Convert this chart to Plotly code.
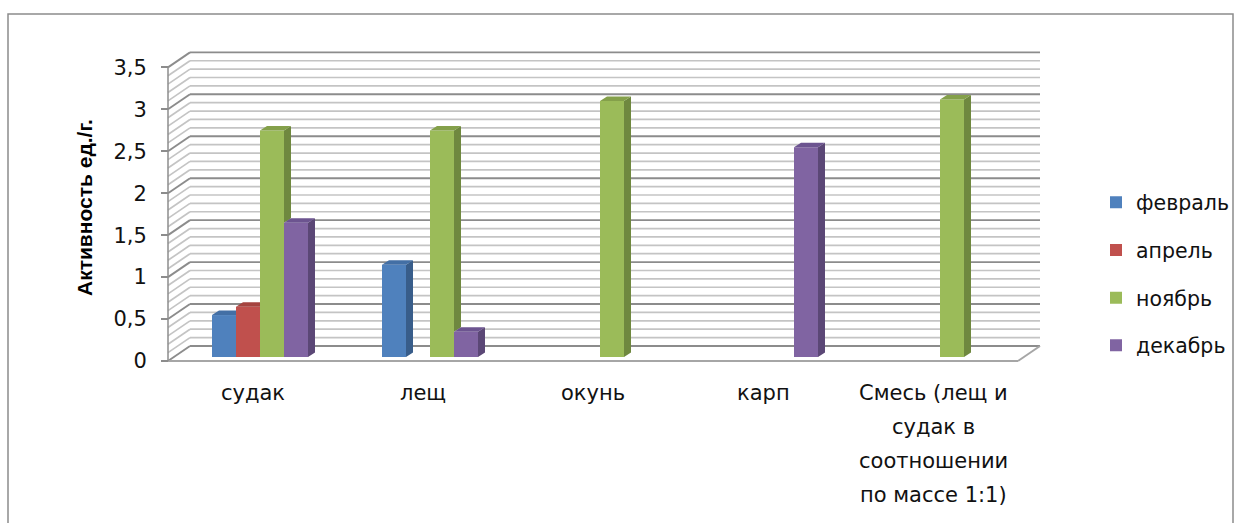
import numpy as np
import plotly.graph_objects as go

# ---- data ----
categories = ["судак", "лещ", "окунь", "карп",
              "Смесь (лещ и\nсудак в\nсоотношении\nпо массе 1:1)"]
months = ["февраль", "апрель", "ноябрь", "декабрь"]
feb = [0.5, 1.1, None, None, None]
apr = [0.6, None, None, None, None]
nov = [2.7, 2.7, 3.05, None, 3.07]
dec = [1.6, 0.3, None, 2.5, None]
series = [feb, apr, nov, dec]
y_ticks = [0, 0.5, 1, 1.5, 2, 2.5, 3, 3.5]
y_title = "Активность ед./г."

# ---- styles ----
front_colors = ["#4F81BD", "#C0504D", "#9BBB59", "#8064A2"]
side_colors = ["#385D8A", "#8E3A38", "#6F883F", "#5B4776"]
top_colors = ["#436FA5", "#A5433F", "#84A04A", "#6C5490"]
major_grid = "#8C8C8C"
minor_grid = "#C4C4C4"
text_font = "DejaVu Sans"

# ---- geometry (pixels of the 1244x523 page) ----
W, H = 1244, 523
PL, PR, PT, PB = 162, 1046, 40, 366      # plot area
AXIS_X, AXIS_Y0 = 168, 361               # front axis / value 0
CAT_PX, UNIT_PX = 170.0, 83.9            # px per category, px per unit

xr0 = -0.5 - (AXIS_X - PL) / CAT_PX
yr0 = -(PB - AXIS_Y0) / UNIT_PX
x_range = [xr0, xr0 + (PR - PL) / CAT_PX]
y_range = [yr0, yr0 + (PB - PT) / UNIT_PX]

ncat = len(categories)
nser = len(series)
x_left, x_right = -0.5, ncat - 0.5
y_top = y_ticks[-1]

wall_dx, wall_dy = 22 / CAT_PX, 15 / UNIT_PX    # back-wall depth offset
bar_dx, bar_dy = 7 / CAT_PX, 4 / UNIT_PX        # bar plane offset
dep_dx, dep_dy = 7 / CAT_PX, 4.5 / UNIT_PX      # bar depth
bar_w = 24 / CAT_PX


def px_x(px):
    return (px - PL) / (PR - PL)


def px_y(py):
    return (PB - py) / (PB - PT)


fig = go.Figure()

# ---- front faces (bars) ----
for k, (name, vals) in enumerate(zip(months, series)):
    fig.add_trace(go.Bar(
        name=name, legendgroup=name,
        x=[i + bar_dx for i in range(ncat)], y=vals,
        base=bar_dy, width=bar_w, offset=-nser / 2 * bar_w + k * bar_w,
        marker=dict(color=front_colors[k], line=dict(width=0)),
        hoverinfo="skip",
    ))

# ---- side and top faces, clipped where the neighbouring bar hides them ----
for k, vals in enumerate(series):
    sx, sy, tx, ty = [], [], [], []
    for i, v in enumerate(vals):
        if v is None:
            continue
        xl = i + bar_dx - nser / 2 * bar_w + k * bar_w
        xr = xl + bar_w
        top = bar_dy + v
        nxt = series[k + 1][i] if k + 1 < nser else None
        low = bar_dy if nxt is None else bar_dy + nxt
        if low < top:
            sx += [xr, xr + dep_dx, xr + dep_dx, xr, xr, None]
            sy += [low, low + dep_dy, top + dep_dy, top, low, None]
        if nxt is not None and nxt >= v:
            tx += [xl, xl + dep_dx, xr, xr, xl, None]
            ty += [top, top + dep_dy, top + dep_dy, top, top, None]
        else:
            tx += [xl, xl + dep_dx, xr + dep_dx, xr, xl, None]
            ty += [top, top + dep_dy, top + dep_dy, top, top, None]
    for xs, ys, col in ((sx, sy, side_colors[k]), (tx, ty, top_colors[k])):
        if xs:
            fig.add_trace(go.Scatter(
                x=xs, y=ys, mode="lines", fill="toself", fillcolor=col,
                line=dict(width=0, color=col), showlegend=False,
                hoverinfo="skip"))

# ---- walls, floor and front axis ----
shapes = []
steps = int(round(y_top / 0.1))
for s in range(steps + 1):
    v = s * 0.1
    major = s % 5 == 0
    col = major_grid if major else minor_grid
    lw = 1.9 if major else 1.7
    shapes.append(dict(type="line", xref="x", yref="y", layer="below",
                       x0=x_left + wall_dx, y0=v + wall_dy,
                       x1=x_right + wall_dx, y1=v + wall_dy,
                       line=dict(color=col, width=lw)))
    shapes.append(dict(type="line", xref="x", yref="y", layer="below",
                       x0=x_left, y0=v, x1=x_left + wall_dx, y1=v + wall_dy,
                       line=dict(color=col, width=lw)))
# floor edges
shapes.append(dict(type="line", xref="x", yref="y", layer="below",
                   x0=x_left, y0=0, x1=x_right, y1=0,
                   line=dict(color="#A6A6A6", width=2)))
shapes.append(dict(type="line", xref="x", yref="y", layer="below",
                   x0=x_right, y0=0, x1=x_right + wall_dx, y1=wall_dy,
                   line=dict(color="#A6A6A6", width=2)))
# front value axis
shapes.append(dict(type="line", xref="x", yref="y", layer="below",
                   x0=x_left, y0=0, x1=x_left, y1=y_top,
                   line=dict(color="#8C8C8C", width=1.5)))
# chart border
shapes.append(dict(type="rect", xref="paper", yref="paper", layer="below",
                   x0=px_x(8), y0=px_y(540), x1=px_x(1233), y1=px_y(14),
                   line=dict(color="#8C8C8C", width=1.5)))

# ---- category labels (one annotation per text line) ----
annotations = []
line_gap = 34
for i, cat in enumerate(categories):
    for j, line in enumerate(cat.split("\n")):
        annotations.append(dict(
            x=i, xref="x", y=px_y(AXIS_Y0), yref="paper",
            yanchor="middle", xanchor="center",
            yshift=-(32 + line_gap * j),
            text=line, showarrow=False,
            font=dict(family=text_font, size=21, color="#111111")))

annotations.append(dict(
    x=px_x(84), xref="paper", y=px_y(208), yref="paper",
    text="<b>" + y_title + "</b>", textangle=-90, showarrow=False,
    xanchor="center", yanchor="middle",
    font=dict(family="Liberation Sans", size=21, color="#000000")))

fig.update_layout(
    width=W, height=H,
    margin=dict(l=PL, r=W - PR, t=PT, b=H - PB, pad=0, autoexpand=False),
    paper_bgcolor="white", plot_bgcolor="rgba(0,0,0,0)",
    barmode="overlay",
    separators=", ",
    shapes=shapes, annotations=annotations,
    showlegend=True,
    legend=dict(xref="container", x=1096 / W, xanchor="left",
                yref="container", y=1 - 274 / H, yanchor="middle",
                font=dict(family=text_font, size=20.5, color="#111111"),
                tracegroupgap=18, bgcolor="rgba(0,0,0,0)"),
    xaxis=dict(range=x_range, visible=False, fixedrange=True),
    yaxis=dict(range=y_range, tickvals=y_ticks, showgrid=False,
               zeroline=False, showline=False,
               anchor="free", position=px_x(AXIS_X),
               ticks="outside", ticklen=7, tickwidth=1.5,
               tickcolor="#8C8C8C", ticklabelstandoff=10,
               tickfont=dict(family=text_font, size=21, color="#111111"),
               fixedrange=True),
)

fig.write_html("out.html")
